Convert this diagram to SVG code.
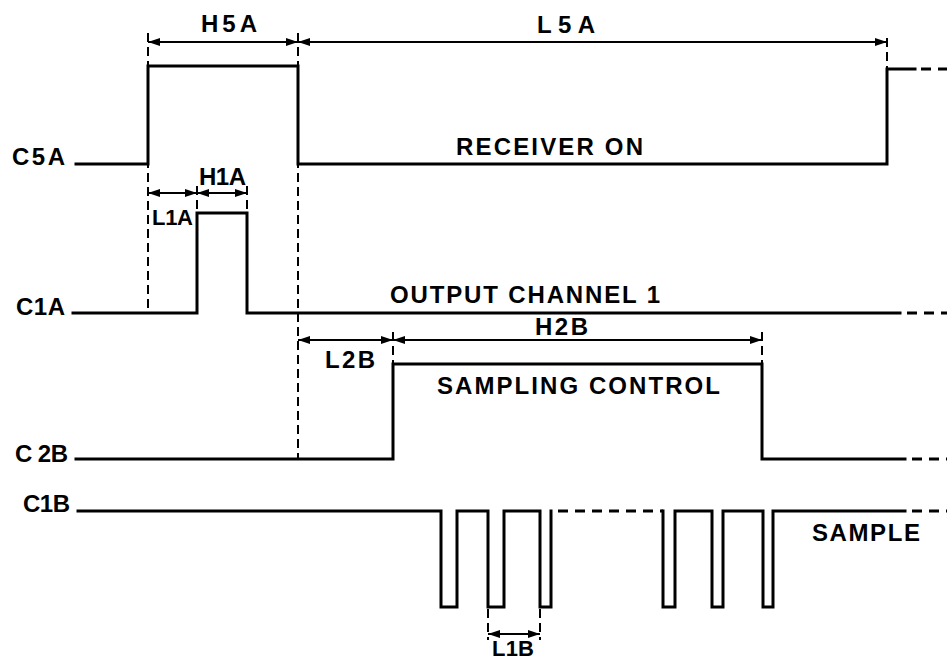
<svg xmlns="http://www.w3.org/2000/svg" width="947" height="662" viewBox="0 0 947 662">
<style>
.w{fill:none;stroke:#000;stroke-width:3;stroke-linejoin:miter;stroke-linecap:square}
.wd{fill:none;stroke:#000;stroke-width:3;stroke-dasharray:10 7}
.g{fill:none;stroke:#000;stroke-width:2;stroke-dasharray:9 5}
.a{fill:none;stroke:#000;stroke-width:2;marker-start:url(#ah);marker-end:url(#ah)}
text{font-family:"Liberation Sans",Arial,Helvetica,sans-serif;font-weight:bold;font-size:24px;fill:#000}
.s{font-size:22px}
</style>
<defs>
<marker id="ah" viewBox="0 0 12 8" refX="12" refY="4" markerWidth="12" markerHeight="8" markerUnits="userSpaceOnUse" orient="auto-start-reverse">
<path d="M0,0 L12,4 L0,8 Z" fill="#000"/>
</marker>
</defs>
<rect width="947" height="662" fill="#fff"/>
<g id="C5A">
<path class="w" d="M76,164 H148 V66 H298 V164 H887 V69 H915"/>
<path class="wd" d="M921,69 H947"/>
<text x="12" y="165" textLength="53" lengthAdjust="spacing">C5A</text>
<text x="456" y="155" textLength="187" lengthAdjust="spacing">RECEIVER  ON</text>
</g>
<g id="C1A">
<path class="w" d="M73,313 H197 V213 H247 V313 H900"/>
<path class="wd" d="M907,313 H947"/>
<text x="16" y="315" textLength="49" lengthAdjust="spacing">C1A</text>
<text x="390" y="303" textLength="270" lengthAdjust="spacing">OUTPUT  CHANNEL 1</text>
</g>
<g id="C2B">
<path class="w" d="M76,459 H393 V364 H762 V459 H905"/>
<path class="wd" d="M912,459 H947"/>
<text x="15" y="462" textLength="53" lengthAdjust="spacing">C 2B</text>
<text x="437" y="394" textLength="283" lengthAdjust="spacing">SAMPLING CONTROL</text>
</g>
<g id="C1B">
<path class="w" d="M78,511 H441 V607 H457 V511 H488 V607 H504 V511 H540 V607 H551 V511"/>
<path class="wd" d="M558,511 H663"/>
<path class="w" d="M663,511 V607 H675 V511 H712 V607 H723 V511 H763 V607 H773 V511 H905"/>
<path class="wd" d="M912,511 H947"/>
<text x="23" y="512" textLength="47" lengthAdjust="spacing">C1B</text>
<text x="812" y="541" textLength="108" lengthAdjust="spacing">SAMPLE</text>
</g>
<g id="connectors">
<path class="g" d="M148,33 V313"/>
<path class="g" d="M298,33 V459"/>
<path class="g" d="M887,38 V69"/>
<path class="g" d="M197,186 V213"/>
<path class="g" d="M247,186 V213"/>
<path class="g" d="M393,332 V364"/>
<path class="g" d="M762,332 V364"/>
<path class="g" d="M488,609 V640"/>
<path class="g" d="M540,609 V640"/>
<path class="a" d="M148,42 H298"/>
<path class="a" d="M298,42 H887"/>
<path class="a" d="M148,193 H197"/>
<path class="a" d="M197,193 H247"/>
<path class="a" d="M298,340 H393"/>
<path class="a" d="M393,340 H762"/>
<path class="a" d="M488,634 H540"/>
</g>
<g id="labels">
<text x="201" y="32" textLength="56" lengthAdjust="spacing">H5A</text>
<text x="537" y="33" textLength="58" lengthAdjust="spacing">L5A</text>
<text x="199" y="185" textLength="47" lengthAdjust="spacing">H1A</text>
<text class="s" x="152" y="225" textLength="41" lengthAdjust="spacing">L1A</text>
<text x="535" y="335" textLength="53" lengthAdjust="spacing">H2B</text>
<text x="325" y="368" textLength="50" lengthAdjust="spacing">L2B</text>
<text class="s" x="492" y="656" textLength="42" lengthAdjust="spacing">L1B</text>
</g>
</svg>
